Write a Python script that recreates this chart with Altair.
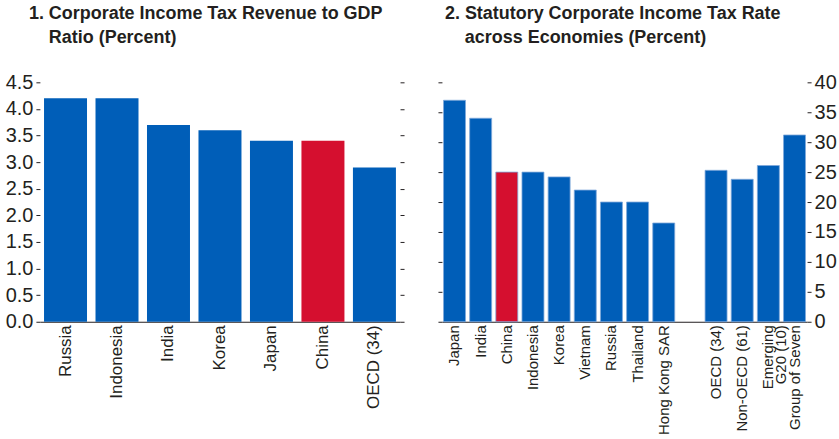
import altair as alt
import pandas as pd

# Panel 1: corporate income tax revenue to GDP (percent)
rev_names = ["Russia", "Indonesia", "India", "Korea", "Japan", "China", "OECD (34)"]
rev_values = [4.2, 4.2, 3.7, 3.6, 3.4, 3.4, 2.9]

# Panel 2: statutory corporate income tax rate (percent); " " is an empty gap slot
rate_names = ["Japan", "India", "China", "Indonesia", "Korea", "Vietnam", "Russia",
              "Thailand", "Hong Kong SAR", " ", "OECD (34)", "Non-OECD (61)",
              "Emerging|G20 (10)", "Group of Seven"]
rate_values = [37.0, 34.0, 25.0, 25.0, 24.2, 22.0, 20.0, 20.0, 16.5, None,
               25.3, 23.8, 26.1, 31.2]

rev_ticks = [0, 0.5, 1.0, 1.5, 2.0, 2.5, 3.0, 3.5, 4.0, 4.5]
rate_ticks = [0, 5, 10, 15, 20, 25, 30, 35, 40]

BLUE = "#005EB8"
RED = "#D50F2F"
INK = "#231F20"
FONT = "Liberation Sans, Arial, sans-serif"
INDENT = "\u200b" + "\u00a0" * 4

rev_df = pd.DataFrame({"name": rev_names, "value": rev_values})
rate_df = pd.DataFrame({"name": rate_names, "value": rate_values}).dropna()

bar_color = alt.condition(alt.datum.name == "China", alt.value(RED), alt.value(BLUE))


def x_axis(size):
    return alt.Axis(title=None, labelAngle=-90, ticks=False, domain=True,
                    domainColor=INK, domainWidth=1.2, labelPadding=3,
                    labelFontSize=size, labelColor=INK, labelFont=FONT,
                    labelOverlap=False, labelLineHeight=13,
                    labelExpr="split(datum.label, '|')")


def y_axis(values, fmt, orient, labels):
    return alt.Axis(title=None, orient=orient, values=values, format=fmt,
                    labels=labels, ticks=True, tickSize=4, tickColor=INK,
                    domain=False, grid=False, labelFontSize=20,
                    labelColor=INK, labelFont=FONT, labelPadding=3)


def title(lines, dx):
    return alt.TitleParams(lines, anchor="start", frame="group", dx=dx,
                           fontSize=18, font=FONT, fontWeight="bold", color=INK,
                           lineHeight=24, offset=25)


# ---- Panel 1
x1 = alt.X("name:N", sort=rev_names,
           scale=alt.Scale(domain=rev_names, paddingInner=0.165, paddingOuter=0.08),
           axis=x_axis(17))
y1_scale = alt.Scale(domain=[0, 4.5], nice=False)
base1 = alt.Chart(rev_df).mark_bar()
left1 = base1.encode(
    x=x1,
    y=alt.Y("value:Q", scale=y1_scale, axis=y_axis(rev_ticks, ".1f", "left", True)),
    color=bar_color,
)
right1 = base1.mark_bar(opacity=0).encode(
    x=x1,
    y=alt.Y("value:Q", scale=y1_scale, axis=y_axis(rev_ticks, ".1f", "right", False)),
)
panel1 = alt.layer(left1, right1).resolve_axis(y="independent").properties(
    width=361, height=240,
    title=title(["1. Corporate Income Tax Revenue to GDP", INDENT + "Ratio (Percent)"], -11),
)

# ---- Panel 2
x2 = alt.X("name:N", sort=rate_names,
           scale=alt.Scale(domain=rate_names, paddingInner=0.16, paddingOuter=0.06),
           axis=x_axis(15))
y2_scale = alt.Scale(domain=[0, 40], nice=False)
base2 = alt.Chart(rate_df).mark_bar(stroke="#7FA8DA", strokeWidth=0.8)
left2 = base2.encode(
    x=x2,
    y=alt.Y("value:Q", scale=y2_scale, axis=y_axis(rate_ticks, "d", "left", False)),
    color=bar_color,
)
right2 = base2.mark_bar(opacity=0).encode(
    x=x2,
    y=alt.Y("value:Q", scale=y2_scale, axis=y_axis(rate_ticks, "d", "right", True)),
)
panel2 = alt.layer(left2, right2).resolve_axis(y="independent").properties(
    width=366, height=240,
    title=title(["2. Statutory Corporate Income Tax Rate", INDENT + "across Economies (Percent)"], 3),
)

chart = alt.hconcat(panel1, panel2, spacing=32).properties(
    padding={"left": 5, "top": 5, "right": 2, "bottom": 0},
    background="white",
).configure_view(stroke=None)

chart.save("out.html", embed_options={"renderer": "svg", "actions": False})
